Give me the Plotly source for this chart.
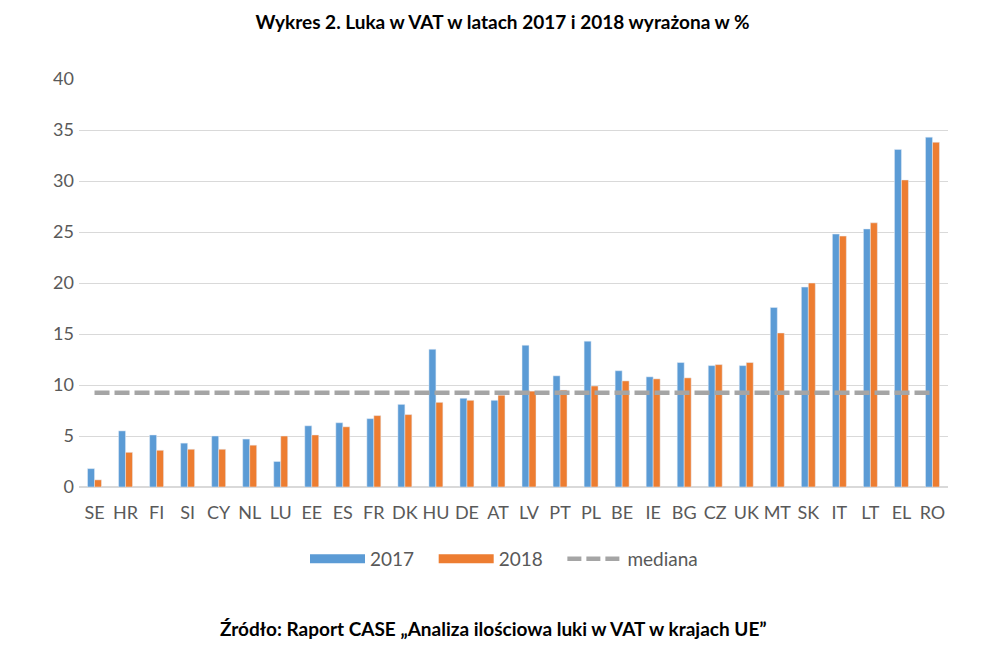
import plotly.graph_objects as go

countries = ["SE","HR","FI","SI","CY","NL","LU","EE","ES","FR","DK","HU","DE","AT","LV","PT","PL","BE","IE","BG","CZ","UK","MT","SK","IT","LT","EL","RO"]
gap_2017 = [1.8,5.5,5.1,4.3,5.0,4.7,2.5,6.0,6.3,6.7,8.1,13.5,8.7,8.5,13.9,10.9,14.3,11.4,10.8,12.2,11.9,11.9,17.6,19.6,24.8,25.3,33.1,34.3]
gap_2018 = [0.7,3.4,3.6,3.7,3.7,4.1,5.0,5.1,5.9,7.0,7.1,8.3,8.5,9.0,9.4,9.5,9.9,10.4,10.6,10.7,12.0,12.2,15.1,20.0,24.6,25.9,30.1,33.8]
median_value = 9.25
y_ticks = [0,5,10,15,20,25,30,35,40]

BLUE = "#5b9bd5"
ORANGE = "#ed7d31"
GREY = "#a5a5a5"
TXT = "#595959"
FONT = "Lato"
SP = "\u00a0" * 3

fig = go.Figure()
fig.add_trace(go.Bar(x=countries, y=gap_2017, name="2017", marker_color=BLUE, showlegend=False))
fig.add_trace(go.Bar(x=countries, y=gap_2018, name="2018", marker_color=ORANGE, showlegend=False))
fig.add_trace(go.Scatter(x=countries, y=[median_value]*len(countries), mode="lines", name="mediana",
                         line=dict(color=GREY, width=4.5, dash="15px,5px"), showlegend=False))
# legend entries
fig.add_trace(go.Scatter(x=[None], y=[None], mode="lines", name="2017" + SP, line=dict(color=BLUE, width=9)))
fig.add_trace(go.Scatter(x=[None], y=[None], mode="lines", name="2018" + SP, line=dict(color=ORANGE, width=9)))
fig.add_trace(go.Scatter(x=[None], y=[None], mode="lines", name="mediana", line=dict(color=GREY, width=4.5, dash="14px,5px")))

plot_h = 655 - 79 - 168
plot_w = 985 - 79 - 37

fig.update_layout(
    width=985, height=655,
    margin=dict(l=79, r=37, t=79, b=168),
    paper_bgcolor="white", plot_bgcolor="white",
    barmode="group", bargap=0.55, bargroupgap=0,
    font=dict(family=FONT, color=TXT, size=18),
    title=dict(text="<b>Wykres 2. Luka w VAT w latach 2017 i 2018 wyrażona w %</b>",
               x=502.5 / 985, xref="container", y=1 - 22 / 655, yref="container",
               xanchor="center", yanchor="middle",
               font=dict(family=FONT, size=19, color="#000000")),
    legend=dict(orientation="h", x=(504 - 79) / plot_w, xanchor="center", y=-(559 - 487) / plot_h, yanchor="middle",
                font=dict(size=19, color=TXT), itemwidth=55, traceorder="normal"),
    xaxis=dict(showgrid=False, tickfont=dict(size=18, color=TXT), ticks="", showline=False,
               ticklabelstandoff=13),
    yaxis=dict(range=[0,40], tickvals=y_ticks, showgrid=True, gridcolor="#d9d9d9", gridwidth=1,
               zeroline=True, zerolinecolor="#d9d9d9", zerolinewidth=1.5,
               tickfont=dict(size=18, color=TXT), ticks="", ticklabelstandoff=4),
    annotations=[dict(text="<b>Źródło: Raport CASE „Analiza ilościowa luki w VAT w krajach UE”</b>",
                      x=(493.5 - 79) / plot_w, xref="paper", y=-(628 - 487) / plot_h, yref="paper",
                      xanchor="center", yanchor="middle",
                      showarrow=False, font=dict(family=FONT, size=19, color="#000000"))],
)
fig.write_html("out.html", config={"displayModeBar": False},
               post_script="document.body.style.margin='0';")
